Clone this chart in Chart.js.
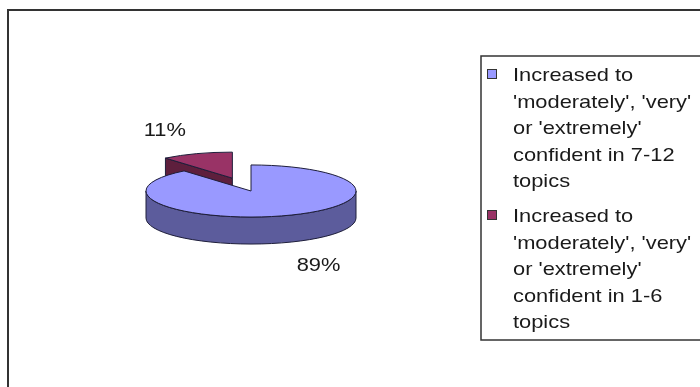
<!DOCTYPE html>
<html>
<head>
<meta charset="utf-8">
<script src="https://cdn.jsdelivr.net/npm/chart.js@4.4.1/dist/chart.umd.min.js"></script>
<style>
  html, body { margin: 0; padding: 0; background: #fff; overflow: hidden; }
  #wrap { position: relative; width: 700px; height: 387px; }
</style>
</head>
<body>
<div id="wrap"><canvas id="pie-chart" width="700" height="387"></canvas></div>
<script>
// data
var categories = [
  "Increased to 'moderately', 'very' or 'extremely' confident in 7-12 topics",
  "Increased to 'moderately', 'very' or 'extremely' confident in 1-6 topics"
];
var legendLines = [
  ["Increased to", "'moderately', 'very'", "or 'extremely'", "confident in 7-12", "topics"],
  ["Increased to", "'moderately', 'very'", "or 'extremely'", "confident in 1-6", "topics"]
];
var shares = [89, 11];
var shareLabels = ["89%", "11%"];

(function () {
  var canvas = document.getElementById("pie-chart");
  var FONT = "19px 'Liberation Sans', Arial, sans-serif";
  var TEXT_SX = 1.15;        // source picture is a bit stretched sideways
  var TILT = 0.248;          // ellipse height / width
  var DEPTH = 27;            // thickness of the disc
  var EXPLODE = [0, 55];     // pulled-out distance per slice (unsquashed px)
  var topColors = ["#9999ff", "#993366"];
  var sideColors = ["#5c5c9c", "#5e1f3d"];
  var edgeColor = "#1e1e3a";

  function geom(arc, i) {
    var half = (arc.startAngle + arc.endAngle) / 2;
    var d = EXPLODE[i] || 0;
    return {
      dx: Math.cos(half) * d,
      dy: Math.sin(half) * d,
      x: arc.x + Math.cos(half) * d,
      y: arc.y + Math.sin(half) * d * TILT,
      r: arc.outerRadius,
      s: arc.startAngle,
      e: arc.endAngle,
      half: half
    };
  }

  function frontRanges(s, e) {
    var out = [];
    for (var k = -1; k <= 1; k++) {
      var a = Math.max(s, k * 2 * Math.PI);
      var b = Math.min(e, k * 2 * Math.PI + Math.PI);
      if (b > a) out.push([a, b]);
    }
    return out;
  }

  function drawText(ctx, text, x, y, align) {
    ctx.save();
    ctx.translate(x, y);
    ctx.scale(TEXT_SX, 1);
    ctx.textAlign = align;
    ctx.fillText(text, 0, 0);
    ctx.restore();
  }

  var framePlugin = {
    id: "frame",
    beforeDraw: function (chart) {
      var ctx = chart.ctx;
      ctx.save();
      ctx.fillStyle = "#fff";
      ctx.fillRect(0, 0, chart.width, chart.height);
      ctx.strokeStyle = "#333";
      ctx.lineWidth = 2;
      ctx.strokeRect(8, 10, 800, 500);
      ctx.restore();
    }
  };

  var pie3dPlugin = {
    id: "pie3d",
    beforeDatasetsDraw: function (chart) {
      var ctx = chart.ctx;
      var arcs = chart.getDatasetMeta(0).data;
      ctx.save();
      ctx.lineWidth = 1;
      ctx.strokeStyle = edgeColor;
      ctx.lineJoin = "round";
      // sides, back slice first
      for (var i = arcs.length - 1; i >= 0; i--) {
        var g = geom(arcs[i], i);
        ctx.fillStyle = sideColors[i];
        var faces = [];
        if (Math.cos(g.s) < -0.01) faces.push(g.s);
        if (Math.cos(g.e) > 0.01) faces.push(g.e);
        faces.forEach(function (ang) {
          var px = g.x + Math.cos(ang) * g.r;
          var py = g.y + Math.sin(ang) * g.r * TILT;
          ctx.beginPath();
          ctx.moveTo(g.x, g.y);
          ctx.lineTo(px, py);
          ctx.lineTo(px, py + DEPTH);
          ctx.lineTo(g.x, g.y + DEPTH);
          ctx.closePath();
          ctx.fill();
          ctx.stroke();
        });
        frontRanges(g.s, g.e).forEach(function (rg) {
          ctx.beginPath();
          ctx.ellipse(g.x, g.y, g.r, g.r * TILT, 0, rg[0], rg[1], false);
          ctx.ellipse(g.x, g.y + DEPTH, g.r, g.r * TILT, 0, rg[1], rg[0], true);
          ctx.closePath();
          ctx.fill();
          ctx.stroke();
        });
      }
      ctx.restore();

      // top faces: the library's own arcs, squashed and pulled out
      var cx = arcs[0].x, cy = arcs[0].y;
      arcs.forEach(function (arc, i) {
        var g = geom(arc, i);
        ctx.save();
        ctx.translate(cx, cy);
        ctx.scale(1, TILT);
        ctx.translate(-cx, -cy);
        ctx.translate(g.dx, g.dy);
        arc.draw(ctx);
        ctx.restore();
      });

      // outlines in screen space so the line width stays even
      ctx.save();
      ctx.lineWidth = 1;
      ctx.strokeStyle = edgeColor;
      ctx.lineJoin = "round";
      arcs.forEach(function (arc, i) {
        var g = geom(arc, i);
        ctx.beginPath();
        ctx.moveTo(g.x, g.y);
        ctx.ellipse(g.x, g.y, g.r, g.r * TILT, 0, g.s, g.e, false);
        ctx.closePath();
        ctx.stroke();
      });

      // percentage labels
      ctx.fillStyle = "#1a1a1a";
      ctx.font = FONT;
      ctx.textBaseline = "middle";
      arcs.forEach(function (arc, i) {
        var g = geom(arc, i);
        var sn = Math.sin(g.half);
        var lx = g.x + Math.cos(g.half) * g.r * 1.9;
        var ly = g.y + sn * g.r * TILT * 1.95 + (sn > 0 ? DEPTH : 0);
        drawText(ctx, shareLabels[i], lx, ly, "center");
      });
      ctx.restore();
      return false;
    }
  };

  var legendPlugin = {
    id: "boxLegend",
    afterDraw: function (chart) {
      var ctx = chart.ctx;
      var left = 481, top = 56;
      ctx.save();
      ctx.strokeStyle = "#333";
      ctx.lineWidth = 1.5;
      ctx.strokeRect(left, top, 400, 284);
      ctx.font = FONT;
      ctx.textBaseline = "alphabetic";
      var baseline = 81;
      legendLines.forEach(function (lines, i) {
        ctx.fillStyle = topColors[i];
        ctx.fillRect(487, baseline - 12, 10, 10);
        ctx.strokeStyle = "#333";
        ctx.lineWidth = 1;
        ctx.strokeRect(487.5, baseline - 11.5, 9, 9);
        ctx.fillStyle = "#1a1a1a";
        lines.forEach(function (line, j) {
          drawText(ctx, line, 513, baseline + j * 26.5, "left");
        });
        baseline += lines.length * 26.5 + 8.5;
      });
      ctx.restore();
    }
  };

  new Chart(canvas, {
    type: "pie",
    data: {
      labels: categories,
      datasets: [{
        data: shares,
        backgroundColor: topColors,
        borderWidth: 0
      }]
    },
    options: {
      responsive: false,
      animation: false,
      events: [],
      layout: { padding: { left: 146, right: 344, top: 86, bottom: 91 } },
      plugins: {
        legend: { display: false },
        tooltip: { enabled: false }
      }
    },
    plugins: [framePlugin, pie3dPlugin, legendPlugin]
  });
})();
</script>
</body>
</html>
